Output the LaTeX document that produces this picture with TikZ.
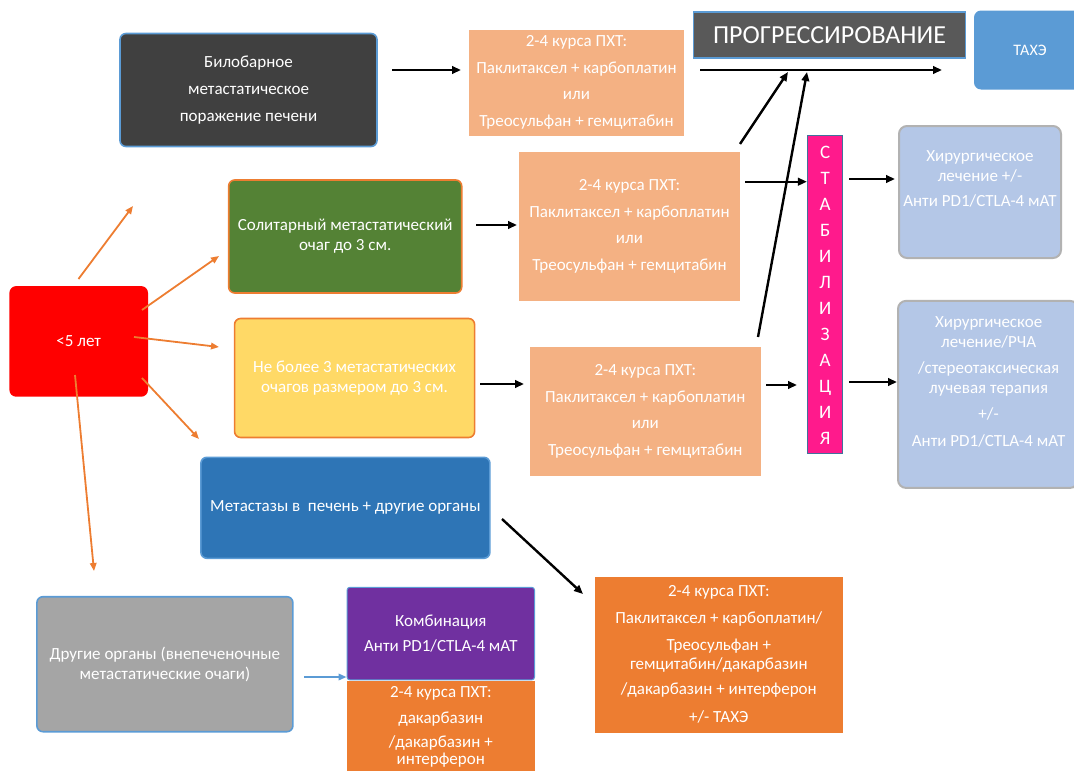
\documentclass[tikz,border=0pt]{standalone}
\usepackage{fontspec}
\setmainfont{Carlito}
\usetikzlibrary{arrows.meta,positioning}
\definecolor{darkbox}{RGB}{64,64,64}
\definecolor{lineblue}{RGB}{91,155,213}
\definecolor{pxtlight}{RGB}{244,177,131}
\definecolor{progray}{RGB}{89,89,89}
\definecolor{solgreen}{RGB}{84,130,53}
\definecolor{accorange}{RGB}{237,125,49}
\definecolor{softyellow}{RGB}{255,217,102}
\definecolor{metblue}{RGB}{46,117,182}
\definecolor{stabpink}{RGB}{255,26,140}
\definecolor{stabedge}{RGB}{65,113,156}
\definecolor{hirblue}{RGB}{180,199,231}
\definecolor{othergray}{RGB}{165,165,165}
\definecolor{combpurple}{RGB}{112,48,160}

\tikzset{
  box/.style={draw,line width=1.6pt,rounded corners=6pt,text=white,align=center,
    font=\fontsize{17}{20}\selectfont},
  pxt/.style={fill=pxtlight,text=white,align=center,inner sep=0pt,
    font=\fontsize{17}{26.5}\selectfont},
  txt/.style={text=white,align=center,inner sep=0pt,font=\fontsize{17}{20}\selectfont},
  blk/.style={-{Triangle[length=9pt,width=7.5pt]},line width=2.4pt},
  org/.style={-{Triangle[length=8pt,width=6.5pt]},line width=1.8pt,accorange},
}

\begin{document}
\begin{tikzpicture}[x=1pt,y=-1pt]
    \useasboundingbox (0,0) rectangle (1074,771);

    % Top row
    \node[box,fill=darkbox,draw=lineblue,minimum width=257pt,minimum height=113pt,
      font=\fontsize{17}{27}\selectfont] (bilo) at (248.5,90)
      {Билобарное\\метастатическое\\поражение печени};
    \node[pxt,minimum width=215pt,minimum height=106pt] (pxt1) at (576.5,82.5)
      {2-4 курса ПХТ:\\Паклитаксел + карбоплатин\\или\\Треосульфан + гемцитабин};
    \node[fill=progray,draw=lineblue,line width=1.2pt,minimum width=272pt,minimum height=46pt,
      text=white,font=\fontsize{26}{26}\selectfont] (prog) at (829.5,35) {ПРОГРЕССИРОВАНИЕ};
    \node[fill=lineblue,rounded corners=7pt,minimum width=112pt,minimum height=79pt,
      text=white,font=\fontsize{16}{18}\selectfont] (taxe) at (1030,50) {ТАХЭ};

    % Second row
    \node[box,fill=solgreen,draw=accorange,minimum width=233pt,minimum height=113pt] (sol)
      at (345.2,236.5) {Солитарный метастатический\\очаг до 3 см.};
    \node[pxt,minimum width=221pt,minimum height=149pt] (pxt2) at (629.5,226.4)
      {2-4 курса ПХТ:\\Паклитаксел + карбоплатин\\или\\Треосульфан + гемцитабин};
    \node[fill=stabpink,draw=stabedge,line width=1pt,minimum width=35.5pt,minimum height=318pt,
      text=white,align=center,inner sep=0pt,font=\fontsize{19}{26}\selectfont] (stab)
      at (825.2,294.9) {С\\Т\\А\\Б\\И\\Л\\И\\З\\А\\Ц\\И\\Я};
    \node[fill=hirblue,draw=gray!60,line width=2pt,rounded corners=8pt,
      minimum width=162pt,minimum height=132pt] (hir1) at (980,192) {};
    \node[txt,anchor=north] (hir1t) at (980,150)
      {Хирургическое\\лечение +/-\\[5pt]Анти PD1/CTLA-4 мАТ};

    % Third row
    \node[box,fill=red,draw=red,minimum width=137pt,minimum height=109pt] (red)
      at (78.7,341.4) {<5 лет};
    \node[box,fill=softyellow,draw=accorange,minimum width=240pt,minimum height=119pt] (yel)
      at (354.6,378) {Не более 3 метастатических\\очагов размером до 3 см.};
    \node[pxt,minimum width=230.6pt,minimum height=128.7pt] (pxt3) at (645.3,411.4)
      {2-4 курса ПХТ:\\Паклитаксел + карбоплатин\\или\\Треосульфан + гемцитабин};
    \node[fill=hirblue,draw=gray!60,line width=2pt,rounded corners=8pt,
      minimum width=180pt,minimum height=187pt] (hir2) at (988,394.4) {};
    \node[txt,anchor=north] (hir2t) at (988.6,316)
      {Хирургическое\\лечение/РЧА\\[6pt]/стереотаксическая\\лучевая терапия\\[6pt]+/-\\[7pt]Анти PD1/CTLA-4 мАТ};

    % Lower part
    \node[box,fill=metblue,draw=lineblue,minimum width=289pt,minimum height=101pt] (met)
      at (345.4,507.8) {Метастазы в~ печень + другие органы};
    \node[fill=accorange,text=white,align=center,inner sep=0pt,
      minimum width=247.7pt,minimum height=156pt,font=\fontsize{17}{19}\selectfont] (pxt4)
      at (718.8,654.7) {2-4 курса ПХТ:\\[8pt]Паклитаксел + карбоплатин/\\[8pt]Треосульфан +\\гемцитабин/дакарбазин\\[6pt]/дакарбазин + интерферон\\[9pt]+/- ТАХЭ};
    \node[box,fill=othergray,draw=lineblue,minimum width=256pt,minimum height=135pt] (other)
      at (164.9,664.2) {Другие органы (внепеченочные\\метастатические очаги)};
    \node[fill=combpurple,draw=lineblue,line width=1pt,rounded corners=3pt,text=white,
      align=center,minimum width=187.6pt,minimum height=92.7pt,
      font=\fontsize{17}{25.5}\selectfont] (comb) at (440.8,633.6)
      {Комбинация\\Анти PD1/CTLA-4 мАТ};
    \node[fill=accorange,minimum width=187.6pt,minimum height=110pt,anchor=north] (pxt5)
      at (comb.south) {};
    \node[txt,anchor=north,font=\fontsize{17}{19}\selectfont] (pxt5t) at (440.8,686)
      {2-4 курса ПХТ:\\[7pt]дакарбазин\\[5pt]/дакарбазин +\\[-2pt]интерферон};

    % Arrow ends
    \coordinate (a1s) at (392,70);   \coordinate (a1e) at (461,70);
    \coordinate (a2s) at (700,70);   \coordinate (a2e) at (942,70);
    \coordinate (a3s) at (740,144);  \coordinate (a3e) at (788,72);
    \coordinate (a4s) at (758,337);  \coordinate (a4e) at (807,72);
    \coordinate (a5s) at (476,225);  \coordinate (a5e) at (517,225);
    \coordinate (a6s) at (745,181.7);
    \coordinate (a7s) at (849,179);  \coordinate (a7e) at (895,179);
    \coordinate (a8s) at (480,384);  \coordinate (a8e) at (524,384);
    \coordinate (a9s) at (766,385);  \coordinate (a9e) at (797,385);
    \coordinate (a10s) at (849,382); \coordinate (a10e) at (897,382);
    \coordinate (a11s) at (502,519); \coordinate (a11e) at (583,594);
    \coordinate (o1s) at (78.5,279); \coordinate (o1e) at (133,206);
    \coordinate (o2s) at (142,310);  \coordinate (o2e) at (219,256);
    \coordinate (o3s) at (134,337);  \coordinate (o3e) at (219,347);
    \coordinate (o4s) at (142,378);  \coordinate (o4e) at (199,439);
    \coordinate (o5s) at (75,375);   \coordinate (o5e) at (94,571);
    \coordinate (b1s) at (304,677);

    % Black arrows
    \draw[blk] (a1s) -- (a1e);
    \draw[blk] (a2s) -- (a2e);
    \draw[blk] (a3s) -- (a3e);
    \draw[blk] (a4s) -- (a4e);
    \draw[blk] (a5s) -- (a5e);
    \draw[blk] (a6s) -- (a6s -| stab.west);
    \draw[blk] (a7s) -- (a7e);
    \draw[blk] (a8s) -- (a8e);
    \draw[blk] (a9s) -- (a9e);
    \draw[blk] (a10s) -- (a10e);
    \draw[blk] (a11s) -- (a11e);

    % Orange arrows from <5 лет
    \draw[org] (o1s) -- (o1e);
    \draw[org] (o2s) -- (o2e);
    \draw[org] (o3s) -- (o3e);
    \draw[org] (o4s) -- (o4e);
    \draw[org] (o5s) -- (o5e);

    % Blue arrow
    \draw[-{Triangle[length=8pt,width=6.5pt]},line width=1.8pt,lineblue] (b1s) -- (b1s -| comb.west);
\end{tikzpicture}
\end{document}
